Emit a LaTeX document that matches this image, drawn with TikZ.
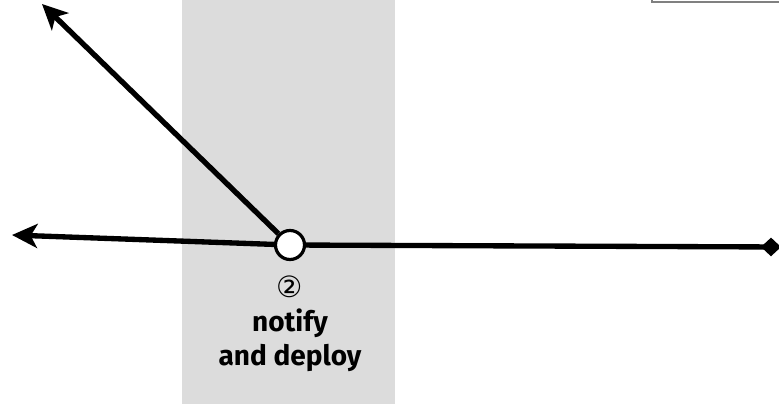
\documentclass[tikz,border=0pt]{standalone}
\usepackage{fontspec}
\setmainfont{Fira Sans}
\newfontfamily\symfont{DejaVu Sans}
\usetikzlibrary{arrows.meta}
\definecolor{bandgray}{HTML}{DCDCDC}
\definecolor{boxgray}{HTML}{808080}

\begin{document}
\begin{tikzpicture}[x = 0.75pt, y = -0.75pt, line width = 4pt,
                        hub/.style = {circle, draw, fill = white, line width = 2.4pt, minimum size = 29*0.75pt, inner sep = 0pt},
                        tip/.style = {-{Stealth[length = 19pt, width = 18pt, inset = 5pt]}},
                        label/.style = {align = center, font = \bfseries\fontsize{21}{25.5}\selectfont}]
      \useasboundingbox (0, 0) rectangle (779, 404);
      \clip (0, 0) rectangle (779, 404);
      \fill [bandgray] (182, 0) rectangle (395, 404);
      \node [draw = boxgray, line width = 1.6pt, minimum width = 140pt, minimum height = 30pt, anchor = south west] (box) at (651, 3) {};
      \node [hub] (c2) at (290, 245){};
      \coordinate (e1) at (42, 4);
      \coordinate (e2) at (12, 235);
      \coordinate (e3) at (781, 247);
      \draw [tip] (c2) -- (e1);
      \draw [tip] (c2) -- (e2);
      \draw [-{Diamond[length = 15pt, width = 14pt]}] (c2) -- (e3);
      \node [label] (n2) at (290, 324) {{\symfont\mdseries\fontsize{22}{22}\selectfont ②}\\notify\\and deploy};
    \end{tikzpicture}
\end{document}
